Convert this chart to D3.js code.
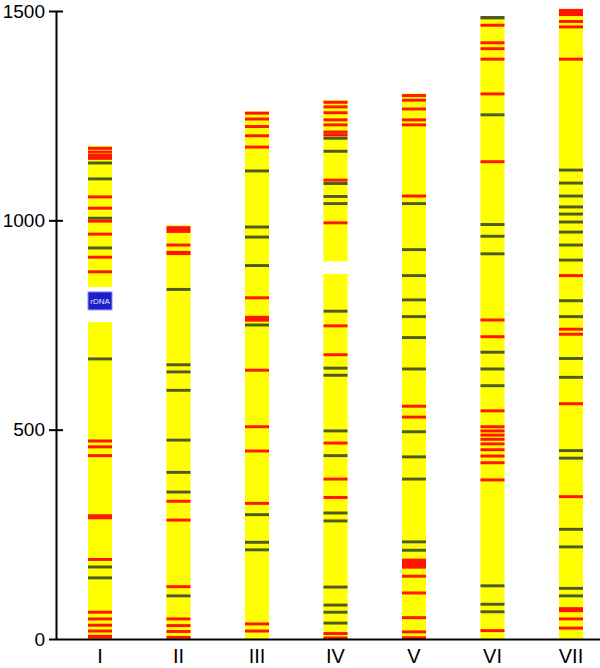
<!DOCTYPE html>
<html><head><meta charset="utf-8">
<script src="https://cdn.jsdelivr.net/npm/d3@7"></script>
<style>html,body{margin:0;padding:0;background:#fff;} svg{display:block}</style>
</head><body>
<svg id="chart" width="600" height="668"></svg>
<script>
// ---- data (kb) ----
const chromosomes = ["I","II","III","IV","V","VI","VII"];
const lengths = [1178, 988, 1260, 1287, 1303, 1488, 1505];
const yTicks = [0, 500, 1000, 1500];

// white gaps [start, end] per chromosome
const gapsI = [[757, 841]];
const gapsIV = [[872, 902]];
// rDNA locus on chromosome I
const rdnaI = [786, 829];
const rdnaLabel = "rDNA";

// red bands: number = thin band at that position, [a,b] = broad band
const redI = [1172,1163,1155,1148,1056,1029,998,967,912,877,473,459,438,[286,298],190,64,48,33,19,[1,10]];
const greenI = [1137,1099,1005,934,669,172,146];
const redII = [[970,986],941,[917,927],329,284,125,48,32,18,4];
const greenII = [835,655,638,594,475,398,351,103];
const redIII = [1256,1242,1224,1202,1175,815,[758,772],642,507,449,324,36,19];
const greenIII = [1118,984,960,892,750,297,231,213];
const redIV = [1282,1271,1257,1240,1228,1211,1204,1096,994,748,679,468,382,338,13,[0,6]];
const greenIV = [1196,1165,1088,1057,1040,783,647,630,497,438,301,282,124,81,64,38];
const redV = [1298,1287,1266,1240,1228,1058,556,530,[168,192],150,110,51,17,3];
const greenV = [1040,930,868,810,770,720,645,495,435,382,232,212];
const redVI = [1466,1424,1410,1385,1302,1140,762,722,545,507,497,487,477,466,452,437,421,380,20];
const greenVI = [[1480,1488],1252,990,962,920,685,645,605,127,83,65];
const redVII = [[1488,1505],1475,1462,1385,868,740,728,562,340,[64,76],48,26];
const greenVII = [1120,1089,1058,1032,1015,996,972,941,905,808,770,670,625,450,432,262,220,121,103];

const redSets = [redI, redII, redIII, redIV, redV, redVI, redVII];
const greenSets = [greenI, greenII, greenIII, greenIV, greenV, greenVI, greenVII];
const gapSets = [gapsI, [], [], gapsIV, [], [], []];

// ---- drawing ----
const svg = d3.select("#chart");
const W = 600, H = 668;
const y = d3.scaleLinear().domain([0, 1500]).range([639, 11]);
const x = d3.scaleBand().domain(chromosomes).range([88, 583]).paddingInner(0.694).paddingOuter(0);

const defs = svg.append("defs");
defs.append("filter").attr("id", "soft").attr("x", "-5%").attr("y", "-1%").attr("width", "110%").attr("height", "102%")
  .append("feGaussianBlur").attr("stdDeviation", 0.45);

const thin = 3.5; // half-thickness of a thin band in kb
const toSpan = b => Array.isArray(b) ? b : [b - thin, b + thin];

const chromG = svg.append("g").attr("filter", "url(#soft)");
chromosomes.forEach((c, i) => {
  const g = chromG.append("g");
  g.append("rect")
    .attr("x", x(c)).attr("width", x.bandwidth())
    .attr("y", y(lengths[i])).attr("height", y(0) - y(lengths[i]))
    .attr("fill", "#ffff00");
  gapSets[i].forEach(s => {
    g.append("rect").attr("x", x(c) - 1).attr("width", x.bandwidth() + 2)
      .attr("y", y(s[1])).attr("height", y(s[0]) - y(s[1])).attr("fill", "#ffffff");
  });
  greenSets[i].forEach(b => {
    const s = toSpan(b);
    g.append("rect").attr("x", x(c)).attr("width", x.bandwidth())
      .attr("y", y(s[1])).attr("height", y(s[0]) - y(s[1]))
      .attr("fill", "#4f5a22");
  });
  redSets[i].forEach(b => {
    const s = toSpan(b);
    g.append("rect").attr("x", x(c)).attr("width", x.bandwidth())
      .attr("y", y(s[1])).attr("height", y(s[0]) - y(s[1]))
      .attr("fill", "#ff1200");
  });
});

// rDNA box
const rg = svg.append("g");
rg.append("rect")
  .attr("x", x("I")).attr("width", x.bandwidth())
  .attr("y", y(rdnaI[1])).attr("height", y(rdnaI[0]) - y(rdnaI[1]))
  .attr("fill", "#1c1cc8").attr("stroke", "#8a90ff").attr("stroke-width", 1);
rg.append("text")
  .attr("x", x("I") + x.bandwidth() / 2).attr("y", y((rdnaI[0] + rdnaI[1]) / 2))
  .attr("dy", "0.35em").attr("text-anchor", "middle")
  .attr("font-family", "Liberation Sans, Arial, sans-serif").attr("font-size", 8)
  .attr("fill", "#e8e8ff").text(rdnaLabel);

// y axis
const yAxis = d3.axisLeft(y).tickValues(yTicks).tickSize(7).tickSizeOuter(0).tickPadding(4).tickFormat(d3.format("d"));
const ya = svg.append("g").attr("transform", "translate(56,0)").call(yAxis);
ya.select(".domain").attr("stroke", "#000").attr("stroke-width", 2);
ya.selectAll(".tick line").attr("x1", 7).attr("stroke", "#000").attr("stroke-width", 2);
ya.selectAll(".tick text").attr("font-family", "Liberation Sans, Arial, sans-serif").attr("font-size", 19).attr("fill", "#000");
ya.selectAll(".tick").filter(d => d === 0).select("line").attr("x1", 0);

// x axis
svg.append("line").attr("x1", 56).attr("x2", W).attr("y1", y(0) + 0.5).attr("y2", y(0) + 0.5)
  .attr("stroke", "#000").attr("stroke-width", 2);
const xAxis = d3.axisBottom(x).tickSize(0).tickPadding(10);
const xa = svg.append("g").attr("transform", `translate(0,${y(0)})`).call(xAxis);
xa.select(".domain").remove();
xa.selectAll(".tick text").attr("font-family", "Liberation Sans, Arial, sans-serif").attr("font-size", 20).attr("fill", "#000");
</script>
</body></html>
